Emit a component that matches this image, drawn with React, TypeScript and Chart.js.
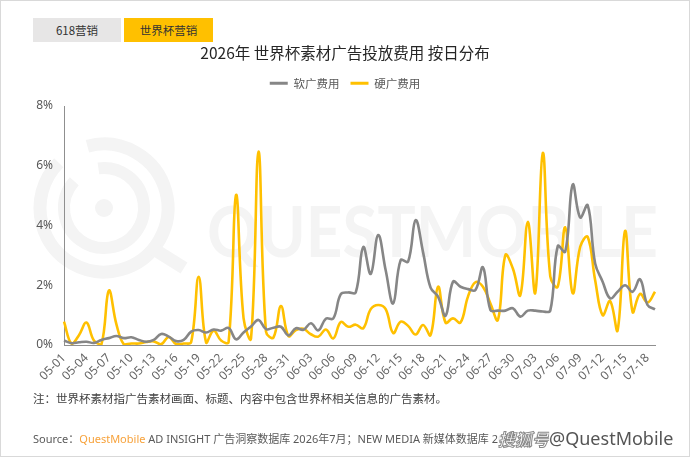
import React, { useEffect, useRef } from 'react';
import { Chart, registerables } from 'chart.js';

Chart.register(...registerables);

const dates = [
  '05-01','05-02','05-03','05-04','05-05','05-06','05-07','05-08','05-09','05-10',
  '05-11','05-12','05-13','05-14','05-15','05-16','05-17','05-18','05-19','05-20',
  '05-21','05-22','05-23','05-24','05-25','05-26','05-27','05-28','05-29','05-30',
  '05-31','06-01','06-02','06-03','06-04','06-05','06-06','06-07','06-08','06-09',
  '06-10','06-11','06-12','06-13','06-14','06-15','06-16','06-17','06-18','06-19',
  '06-20','06-21','06-22','06-23','06-24','06-25','06-26','06-27','06-28','06-29',
  '06-30','07-01','07-02','07-03','07-04','07-05','07-06','07-07','07-08','07-09',
  '07-10','07-11','07-12','07-13','07-14','07-15','07-16','07-17','07-18','07-19',
];

// 软广费用 (%)
const softAd = [
  0.15, 0.06, 0.09, 0.11, 0.07, 0.17, 0.23, 0.30, 0.23, 0.26,
  0.17, 0.11, 0.17, 0.37, 0.28, 0.13, 0.17, 0.45, 0.50, 0.42,
  0.52, 0.48, 0.57, 0.19, 0.42, 0.62, 0.84, 0.53, 0.58, 0.61,
  0.32, 0.56, 0.51, 0.73, 0.49, 0.88, 0.89, 1.70, 1.76, 1.76,
  3.28, 2.38, 3.68, 2.50, 1.39, 2.84, 2.79, 4.18, 3.10, 1.92,
  1.62, 0.98, 2.12, 1.95, 1.87, 1.84, 2.60, 1.17, 1.15, 1.15,
  1.23, 0.95, 1.15, 1.15, 1.12, 1.15, 3.31, 3.12, 5.37, 4.27,
  4.68, 2.73, 2.12, 1.56, 1.78, 2.00, 1.78, 2.20, 1.34, 1.19,
];

// 硬广费用 (%)
const hardAd = [
  0.78, 0.05, 0.33, 0.75, 0.15, 0.02, 1.82, 0.70, 0.02, 0.05,
  0.05, 0.10, 0.12, 0.03, 0.27, 0.03, 0.05, 0.10, 2.28, 0.08,
  0.48, 0.15, 0.10, 5.02, 0.90, 0.22, 6.47, 0.45, 0.25, 1.30,
  0.30, 0.50, 0.54, 0.36, 0.28, 0.52, 0.22, 0.77, 0.61, 0.68,
  0.56, 1.20, 1.34, 1.20, 0.40, 0.78, 0.64, 0.35, 0.67, 0.33,
  1.95, 0.75, 0.89, 0.75, 1.62, 2.10, 1.95, 1.39, 0.84, 3.01,
  2.56, 1.67, 4.12, 1.75, 6.43, 2.30, 1.95, 3.94, 1.73, 3.29,
  3.62, 2.17, 1.00, 1.47, 0.49, 3.82, 1.11, 1.71, 1.42, 1.78,
];

const seriesNames = ['软广费用', '硬广费用'];
const yMax = 8;
const yStep = 2;
const labelEvery = 3;

const titleText = '2026年 世界杯素材广告投放费用 按日分布';
const tabs = ['618营销', '世界杯营销'];
const noteText = '注：世界杯素材指广告素材画面、标题、内容中包含世界杯相关信息的广告素材。';

const GRAY = '#868686';
const YELLOW = '#FFC000';
const WM = '#f4f4f4';

const sansFont = "'Noto Sans', 'Noto Sans CJK SC', sans-serif";
const cjkFont = "'Noto Sans CJK SC', 'Noto Sans', sans-serif";

const watermarkPlugin = {
  id: 'qmWatermark',
  beforeDraw(chart: any) {
    const ctx = chart.ctx as CanvasRenderingContext2D;
    ctx.save();
    ctx.fillStyle = WM;
    ctx.strokeStyle = WM;
    const cx = 104, cy = 208;
    ctx.lineWidth = 13;
    ctx.beginPath();
    ctx.arc(cx, cy, 64, (255 * Math.PI) / 180, ((225 + 360) * Math.PI) / 180);
    ctx.stroke();
    ctx.lineWidth = 12;
    ctx.beginPath();
    ctx.arc(cx, cy, 40, (262 * Math.PI) / 180, ((222 + 360) * Math.PI) / 180);
    ctx.stroke();
    ctx.beginPath();
    ctx.arc(cx, cy, 9, 0, Math.PI * 2);
    ctx.fill();
    ctx.lineWidth = 13;
    ctx.beginPath();
    ctx.moveTo(cx + 48, cy + 40);
    ctx.lineTo(cx + 80, cy + 60);
    ctx.stroke();
    ctx.font = "bold 70px 'Lato', sans-serif";
    ctx.textBaseline = 'alphabetic';
    const txt = 'QUESTMOBILE';
    const w = ctx.measureText(txt).width;
    ctx.translate(207, 257);
    ctx.scale(451 / w, 1);
    ctx.fillText(txt, 0, 0);
    ctx.restore();
  },
};

function LineChart() {
  const ref = useRef<HTMLCanvasElement | null>(null);
  useEffect(() => {
    if (!ref.current) return;
    const chart = new Chart(ref.current, {
      type: 'line',
      data: {
        labels: dates,
        datasets: [
          {
            label: seriesNames[0],
            data: softAd,
            borderColor: GRAY,
            backgroundColor: GRAY,
            borderWidth: 2.6,
            pointRadius: 0,
            tension: 0.4,
            fill: false,
          },
          {
            label: seriesNames[1],
            data: hardAd,
            borderColor: YELLOW,
            backgroundColor: YELLOW,
            borderWidth: 2.6,
            pointRadius: 0,
            tension: 0.4,
            fill: false,
          },
        ],
      },
      options: {
        animation: false,
        responsive: true,
        maintainAspectRatio: false,
        events: [],
        layout: { padding: { left: 35, right: 35, top: 0, bottom: 62 } },
        plugins: {
          title: {
            display: true,
            text: titleText,
            color: '#262626',
            font: { family: cjkFont, size: 15.5, weight: 'normal', lineHeight: 1.2 },
            padding: { top: 43.7, bottom: 4.1 },
          },
          legend: {
            display: true,
            position: 'top',
            labels: {
              color: '#595959',
              font: { family: cjkFont, size: 11.5 },
              boxWidth: 18,
              boxHeight: 3,
              padding: 11,
              generateLabels: (c: any) =>
                Chart.defaults.plugins.legend.labels
                  .generateLabels(c)
                  .map((l: any) => ({ ...l, lineWidth: 0 })),
            },
          },
          subtitle: {
            display: true,
            text: '',
            weight: 500,
            font: { size: 1, lineHeight: 1 },
            padding: { top: 0, bottom: 6.1 },
          } as any,
          tooltip: { enabled: false },
        },
        scales: {
          x: {
            type: 'category',
            offset: false,
            grid: { display: false, drawTicks: false },
            border: { display: true, color: '#8f8f8f', width: 1 },
            ticks: {
              autoSkip: false,
              minRotation: 45,
              maxRotation: 45,
              padding: 6,
              color: '#666',
              font: { family: sansFont, size: 12 },
              callback: (_v: any, i: number) => (i % labelEvery === 0 ? dates[i] : ''),
            },
            afterFit: (s: any) => {
              s.height = 50;
            },
          },
          y: {
            min: 0,
            max: yMax,
            grid: { display: false, drawTicks: false },
            border: { display: true, color: '#8f8f8f', width: 1 },
            ticks: {
              stepSize: yStep,
              padding: 11,
              color: '#595959',
              font: { family: sansFont, size: 12 },
              callback: (v: any) => `${v}%`,
            },
            afterFit: (s: any) => {
              s.width = 29;
            },
          },
        },
      },
      plugins: [watermarkPlugin],
    });
    return () => chart.destroy();
  }, []);
  return <canvas ref={ref} />;
}

export default function App() {
  const tabBase: React.CSSProperties = {
    position: 'absolute',
    top: 18,
    height: 24,
    display: 'flex',
    alignItems: 'center',
    justifyContent: 'center',
    fontFamily: cjkFont,
    fontSize: 11.5,
    color: '#333',
  };
  return (
    <div
      style={{
        position: 'fixed',
        left: 0,
        top: 0,
        width: 690,
        height: 457,
        background: '#fff',
        overflow: 'hidden',
      }}
    >
      <div style={{ position: 'absolute', left: 0, top: 0, width: 690, height: 457 }}>
        <LineChart />
      </div>
      <div style={{ ...tabBase, left: 33, width: 88, background: '#e7e6e6' }}>{tabs[0]}</div>
      <div style={{ ...tabBase, left: 124, width: 89, background: YELLOW }}>{tabs[1]}</div>
      <div
        style={{
          position: 'absolute',
          left: 33,
          top: 389,
          fontFamily: cjkFont,
          fontSize: 11.5,
          color: '#404040',
          whiteSpace: 'nowrap',
          lineHeight: '18px',
        }}
      >
        {noteText}
      </div>
      <div
        style={{
          position: 'absolute',
          left: 33,
          top: 430,
          fontFamily: sansFont,
          fontSize: 11,
          color: '#595959',
          whiteSpace: 'nowrap',
          lineHeight: '18px',
        }}
      >
        Source：<span style={{ color: '#F7A23B' }}>QuestMobile</span> AD INSIGHT 广告洞察数据库 2026年7月；NEW MEDIA 新媒体数据库 2026年7月
      </div>
      <div
        style={{
          position: 'absolute',
          left: 498,
          top: 426,
          height: 24,
          display: 'flex',
          alignItems: 'center',
          whiteSpace: 'nowrap',
        }}
      >
        <span
          style={{
            fontFamily: cjkFont,
            fontSize: 17,
            fontStyle: 'italic',
            fontWeight: 'bold',
            color: '#fff',
            WebkitTextStroke: '1px #8a8a8a',
            background: 'rgba(255,255,255,0.85)',
          }}
        >
          搜狐号
        </span>
        <span
          style={{
            fontFamily: sansFont,
            fontSize: 18,
            color: '#555',
            background: 'rgba(255,255,255,0.85)',
          }}
        >
          @QuestMobile
        </span>
      </div>
      <div
        style={{
          position: 'absolute',
          left: 0,
          top: 0,
          width: 690,
          height: 457,
          boxSizing: 'border-box',
          border: '1px solid #d9d9d9',
          pointerEvents: 'none',
        }}
      />
    </div>
  );
}
